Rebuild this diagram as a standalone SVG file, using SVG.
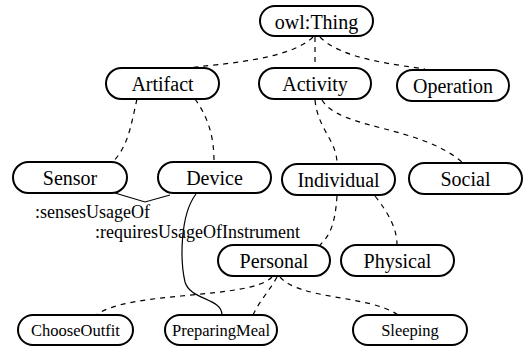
<svg xmlns="http://www.w3.org/2000/svg" width="530" height="346" viewBox="0 0 530 346">
<style>
.n rect{fill:#fff;stroke:#000;stroke-width:2}
.n text{font-size:20px;text-anchor:middle;fill:#000}
.s text{font-size:16.5px}
.d{fill:none;stroke:#000;stroke-width:1.2;stroke-dasharray:5,5}
.l{fill:none;stroke:#000;stroke-width:1.2}
.lbl{font-size:18px;fill:#000}
</style>
<rect width="530" height="346" fill="#fff"/>
<g font-family="'Liberation Serif','Times New Roman','DejaVu Serif',serif">
<g id="connectors">
<path class="d" d="M313,37 C290,60 220,64 187,68"/>
<path class="d" d="M315,37 L315,68"/>
<path class="d" d="M320,37 C340,58 390,64 425,69"/>
<path class="d" d="M137,99 C130,130 128,145 113,162"/>
<path class="d" d="M195,99 C210,120 214,140 214,162"/>
<path class="d" d="M315,100 C318,130 337,140 337,164"/>
<path class="d" d="M322,100 C340,130 420,125 463,163"/>
<path class="d" d="M337,196 C335,225 330,235 320,245"/>
<path class="d" d="M375,196 C390,215 397,230 397,245"/>
<path class="d" d="M272,277 C250,300 130,290 96,315"/>
<path class="d" d="M277,277 C270,290 260,300 253,315"/>
<path class="d" d="M280,277 C300,300 370,295 398,315"/>
<path class="l" d="M115,193 L145,202 L170,195"/>
<path class="l" d="M196,194 C180,215 180,260 185,282 C190,300 222,298 222,315"/>
<text class="lbl" x="35" y="218">:sensesUsageOf</text>
<text class="lbl" x="95" y="238">:requiresUsageOfInstrument</text>
</g>
<g id="owlThing" class="n"><rect x="260" y="6" width="113" height="30" rx="15"/><text x="316.5" y="29">owl:Thing</text></g>
<g id="Artifact" class="n"><rect x="106" y="68" width="113" height="31" rx="15.5"/><text x="162.5" y="91">Artifact</text></g>
<g id="Activity" class="n"><rect x="259" y="68" width="112" height="31" rx="15.5"/><text x="315" y="91">Activity</text></g>
<g id="Operation" class="n"><rect x="397" y="70" width="112" height="31" rx="15.5"/><text x="453" y="93">Operation</text></g>
<g id="Sensor" class="n"><rect x="13" y="162" width="114" height="31" rx="15.5"/><text x="70" y="185">Sensor</text></g>
<g id="Device" class="n"><rect x="158" y="162" width="113" height="31" rx="15.5"/><text x="214.5" y="185">Device</text></g>
<g id="Individual" class="n"><rect x="282" y="164" width="113" height="31" rx="15.5"/><text x="338.5" y="187">Individual</text></g>
<g id="Social" class="n"><rect x="409" y="163" width="113" height="31" rx="15.5"/><text x="465.5" y="186">Social</text></g>
<g id="Personal" class="n"><rect x="218" y="245" width="112" height="31" rx="15.5"/><text x="274" y="268">Personal</text></g>
<g id="Physical" class="n"><rect x="341" y="245" width="113" height="31" rx="15.5"/><text x="397.5" y="268">Physical</text></g>
<g id="ChooseOutfit" class="n s"><rect x="18" y="315" width="115" height="30" rx="15"/><text x="75.5" y="336">ChooseOutfit</text></g>
<g id="PreparingMeal" class="n s"><rect x="165" y="315" width="112" height="30" rx="15"/><text x="221" y="336">PreparingMeal</text></g>
<g id="Sleeping" class="n s"><rect x="353" y="315" width="114" height="30" rx="15"/><text x="410" y="336">Sleeping</text></g>
</g>
</svg>
